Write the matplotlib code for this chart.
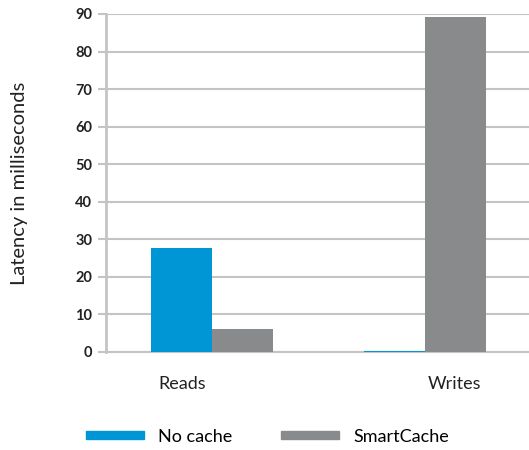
import matplotlib
matplotlib.use("Agg")
import matplotlib.pyplot as plt
from matplotlib.patches import Patch

categories = ["Reads", "Writes"]
no_cache = [27.8, 0.3]
smart_cache = [6.2, 89.2]
series_names = ["No cache", "SmartCache"]
y_ticks = [0, 10, 20, 30, 40, 50, 60, 70, 80, 90]

BLUE = "#0096d6"
GRAY = "#898a8c"
GRID = "#c4c4c4"

plt.rcParams["font.family"] = ["Lato", "DejaVu Sans"]

fig = plt.figure(figsize=(5.29, 4.5), dpi=100)
ax = fig.add_axes([0.2004, 0.2178, 0.7996, 0.7511])

x = range(len(categories))
width = 0.286
ax.bar([xi - width / 2 for xi in x], no_cache, width, color=BLUE, zorder=3)
ax.bar([xi + width / 2 for xi in x], smart_cache, width, color=GRAY, zorder=3)

ax.set_xlim(-0.5, 1.49)
ax.set_ylim(0, 90)
ax.set_yticks(y_ticks)
# category labels sit a little outside the group centre in the original
label_shift = 0.14
ax.set_xticks([xi + (label_shift if xi else -label_shift) for xi in x])
ax.set_xticklabels(categories, fontsize=13, color="#222222")
ax.tick_params(axis="x", length=0, pad=17)
ax.tick_params(axis="y", length=6, color=GRID, width=1.5, labelsize=10.5, pad=4,
               labelcolor="#222222")
for lbl in ax.get_yticklabels():
    lbl.set_fontweight("bold")

ax.grid(axis="y", color=GRID, linewidth=1.5, zorder=0)
ax.set_axisbelow(True)
for side in ["top", "right"]:
    ax.spines[side].set_visible(False)
ax.spines["left"].set_color(GRID)
ax.spines["left"].set_linewidth(2)
ax.spines["bottom"].set_color(GRID)
ax.spines["bottom"].set_linewidth(1.5)
ax.spines["bottom"].set_zorder(1)

ax.set_ylabel("Latency in milliseconds", fontsize=14.5, color="#222222", labelpad=34)

handles = [Patch(color=BLUE), Patch(color=GRAY)]
fig.legend(handles, series_names, loc="center left", bbox_to_anchor=(0.132, 0.03),
           ncol=2, frameon=False, fontsize=13, handlelength=3.2, handleheight=0.3,
           columnspacing=2.7, handletextpad=0.8)

fig.savefig("out.png", dpi=100)
